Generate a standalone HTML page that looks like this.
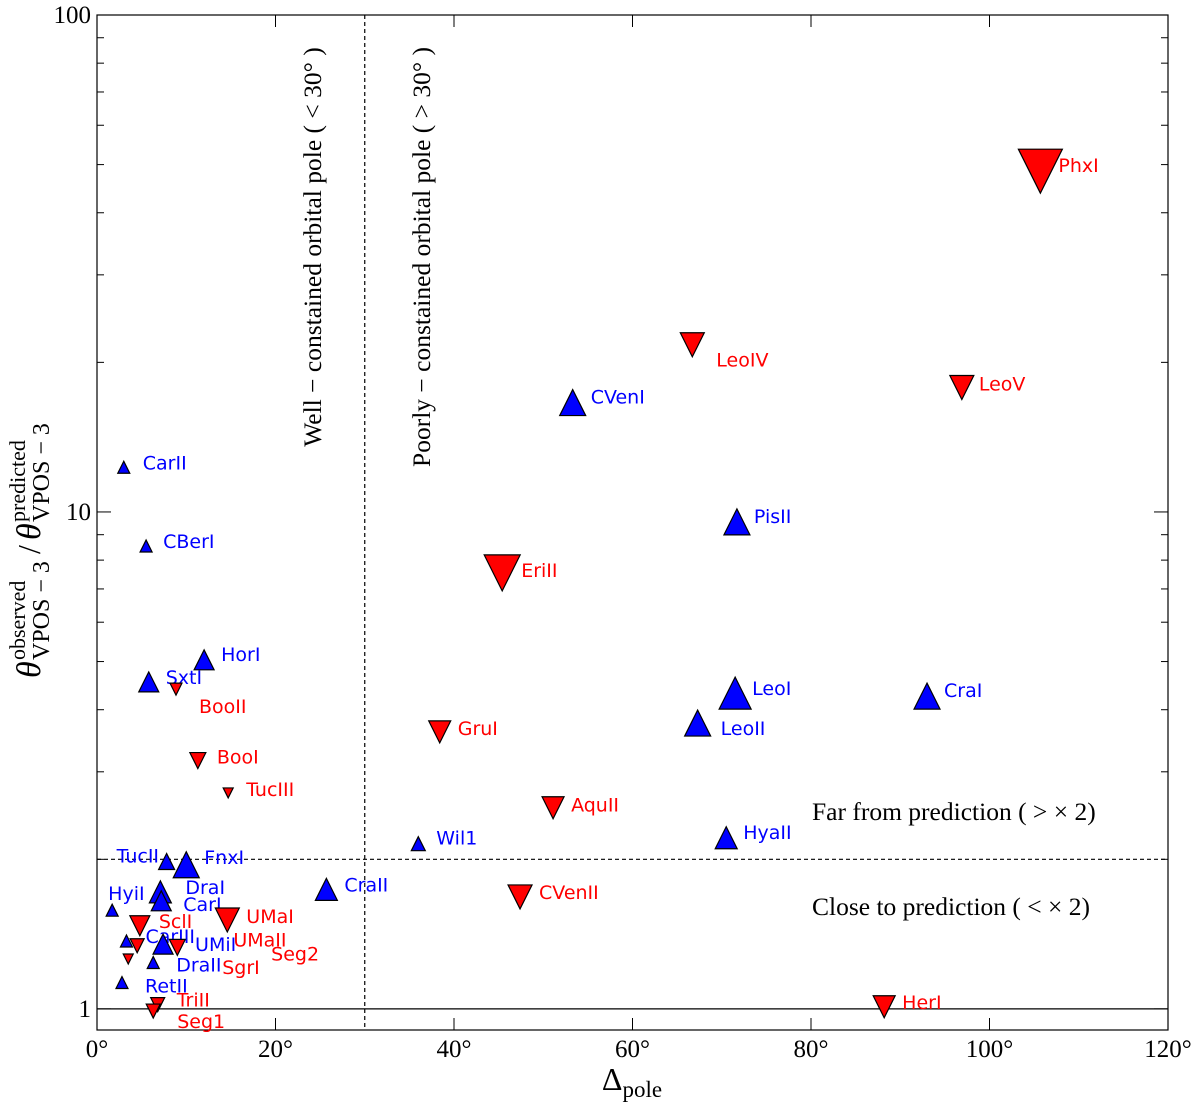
<!DOCTYPE html>
<html><head><meta charset="utf-8"><style>
html,body{margin:0;padding:0;background:#fff;width:1200px;height:1106px;overflow:hidden}
svg{display:block}
.ser{font-family:"Liberation Serif","DejaVu Serif",serif}
.lab{font-family:"DejaVu Sans","Liberation Sans",sans-serif;font-size:19px}
</style></head><body>
<svg id="chart" width="1200" height="1106" xmlns="http://www.w3.org/2000/svg"></svg>
<script>
const names = ["CarII","CBerI","HorI","SxtI","CVenI","PisII","LeoI","LeoII","CraI","HyaII","Wil1","CraII","TucII","FnxI","DraI","CarI","HyiI","CarIII","UMiI","DraII","RetII",
"PhxI","LeoIV","LeoV","EriII","GruI","AquII","CVenII","HerI","BooII","BooI","TucIII","SclI","UMaI","Seg2","UMaII","SgrI","TriII","Seg1"];
const deltaPole = [3.0,5.5,12.0,5.8,53.3,71.7,71.5,67.3,93.0,70.5,36.0,25.7,7.8,10.0,7.1,7.2,1.7,3.3,7.4,6.3,2.8,
105.7,66.7,96.9,45.4,38.4,51.1,47.4,88.2,8.85,11.3,14.7,4.8,14.6,4.5,9.0,3.5,6.8,6.3];
const ratio = [12.3,8.54,5.04,4.55,16.6,9.55,4.32,3.76,4.26,2.21,2.15,1.74,1.98,1.95,1.72,1.65,1.58,1.37,1.35,1.24,1.13,
48.5,21.7,17.8,7.54,3.61,2.54,1.68,1.01,4.40,3.16,2.72,1.47,1.51,1.34,1.33,1.26,1.02,0.99];
const kind = ["up","up","up","up","up","up","up","up","up","up","up","up","up","up","up","up","up","up","up","up","up",
"down","down","down","down","down","down","down","down","down","down","down","down","down","down","down","down","down","down"];
const msize = [6,6,10,10,13,13,16,13,13,11,7,11,8,13,11,10,6,6,10,6,6,
22,12,12,18,11,11,12,11,6,8,5,10,12,7,8,5,7,7];
const labelDx = [19,17,17,17,18,17,17,23,17,17,18,18,-50,18,25,22,-4,19,32,23,23,
18,24,17,19,18,18,19,18,23,19,18,19,19,134,56,94,19,24];
const labelDy = [-5,-5,-6,-5,-6,-6,-5,5,-6,-6,-6,-5,-6,-8,-5,3,-17,-5,0,2,3,
-6,15,-4,-3,-4,-3,-5,-5,17,-4,-4,-5,-4,8,-8,8,-5,10];
const xTicks = [0,20,40,60,80,100,120];
const yTicks = [1,10,100];

const svg = document.getElementById('chart');
const NS = "http://www.w3.org/2000/svg";
const L=97,R=1168,T=15,B=1030;
const xMin=0,xMax=120,yMin=Math.log10(0.9069),yMax=2;
function X(v){return L+(v-xMin)/(xMax-xMin)*(R-L);}
function Y(v){return B-(Math.log10(v)-yMin)/(yMax-yMin)*(B-T);}
function mk(tag,attrs,parent){const e=document.createElementNS(NS,tag);for(const k in attrs)e.setAttribute(k,attrs[k]);(parent||svg).appendChild(e);return e;}

const frame = mk('rect',{x:L,y:T,width:R-L,height:B-T,fill:'none',stroke:'#000','stroke-width':1.2});



xTicks.forEach(t=>{
  const x=X(t);
  const g=mk('g',{});
  
  
  mk('line',{x1:x,y1:B,x2:x,y2:B-12,stroke:'#000','stroke-width':1},g);
  mk('line',{x1:x,y1:T,x2:x,y2:T+12,stroke:'#000','stroke-width':1},g);
  const tx=mk('text',{x:x,y:B+27,'text-anchor':'middle','font-size':25,class:'ser'},g);
  tx.textContent=t+'\u00B0';
});
yTicks.forEach(t=>{
  const y=Y(t);
  const g=mk('g',{});
  
  
  mk('line',{x1:L,y1:y,x2:L+14,y2:y,stroke:'#000','stroke-width':1},g);
  mk('line',{x1:R,y1:y,x2:R-14,y2:y,stroke:'#000','stroke-width':1},g);
  const tx=mk('text',{x:L-6,y:y+8,'text-anchor':'end','font-size':25,class:'ser'},g);
  tx.textContent=t;
});
[1,10].forEach(d=>{for(let m=2;m<=9;m++){const v=d*m;const y=Y(v);
  const l1=mk('line',{x1:L,y1:y,x2:L+7,y2:y,stroke:'#000','stroke-width':1});
  
  
  const l2=mk('line',{x1:R,y1:y,x2:R-7,y2:y,stroke:'#000','stroke-width':1});
  
  
}});

const vl=mk('line',{x1:X(30),y1:T,x2:X(30),y2:B,stroke:'#000','stroke-width':1.2,'stroke-dasharray':'4,3'});


const hl=mk('line',{x1:L,y1:Y(2),x2:R,y2:Y(2),stroke:'#000','stroke-width':1.2,'stroke-dasharray':'4,3'});


const ol=mk('line',{x1:L,y1:Y(1),x2:R,y2:Y(1),stroke:'#000','stroke-width':1.2});



function ann(txt,x,y,rot,name,anchor,fs){const t=mk('text',{x:x,y:y,'font-size':fs,class:'ser','text-anchor':anchor||'middle',transform:rot?`rotate(-90 ${x} ${y})`:''});t.textContent=txt;
  
  }
ann('Well \u2212 constained orbital pole ( < 30\u00B0 )',321,247,true,'well-constrained-annotation','middle',25.5);
ann('Poorly \u2212 constained orbital pole ( > 30\u00B0 )',430,257,true,'poorly-constrained-annotation','middle',25.5);
ann('Far from prediction ( > \u00D7 2)',812,820,false,'far-annotation','start',25.5);
ann('Close to prediction ( < \u00D7 2)',812,915,false,'close-annotation','start',25.5);

names.forEach((n,i)=>{
  const x=X(deltaPole[i]),y=Y(ratio[i]),s=msize[i];
  const g=mk('g',{});
  
  
  let pts;
  if(kind[i]==='up') pts=`${x},${y-s} ${x-s},${y+s} ${x+s},${y+s}`;
  else pts=`${x},${y+s} ${x-s},${y-s} ${x+s},${y-s}`;
  mk('polygon',{points:pts,fill:kind[i]==='up'?'#0000ff':'#ff0000',stroke:'#000','stroke-width':1.2},g);
  const t=mk('text',{x:x+labelDx[i],y:y+labelDy[i]+7,class:'lab',fill:kind[i]==='up'?'#0000ff':'#ff0000'},g);
  t.textContent=n;
});

const xl=mk('text',{x:632,y:1090,'text-anchor':'middle',class:'ser','font-size':32});
xl.innerHTML='\u0394<tspan font-size="23" dy="7">pole</tspan>';



const yg=mk('g',{transform:'translate(40 538) rotate(-90)'});


function yt(txt,x,y,fs,it){const t=mk('text',{x:x,y:y,'font-size':fs,class:'ser','font-style':it?'italic':'normal'},yg);t.textContent=txt;}
yt('\u03B8',-140,0,34,true);
yt('VPOS \u2212 3',-122,9,24,false);
yt('observed',-122,-15,22,false);
yt('/',-16,0,32,false);
yt('\u03B8',-2,0,34,true);
yt('VPOS \u2212 3',16,9,24,false);
yt('predicted',16,-15,22,false);
</script>
</body></html>
